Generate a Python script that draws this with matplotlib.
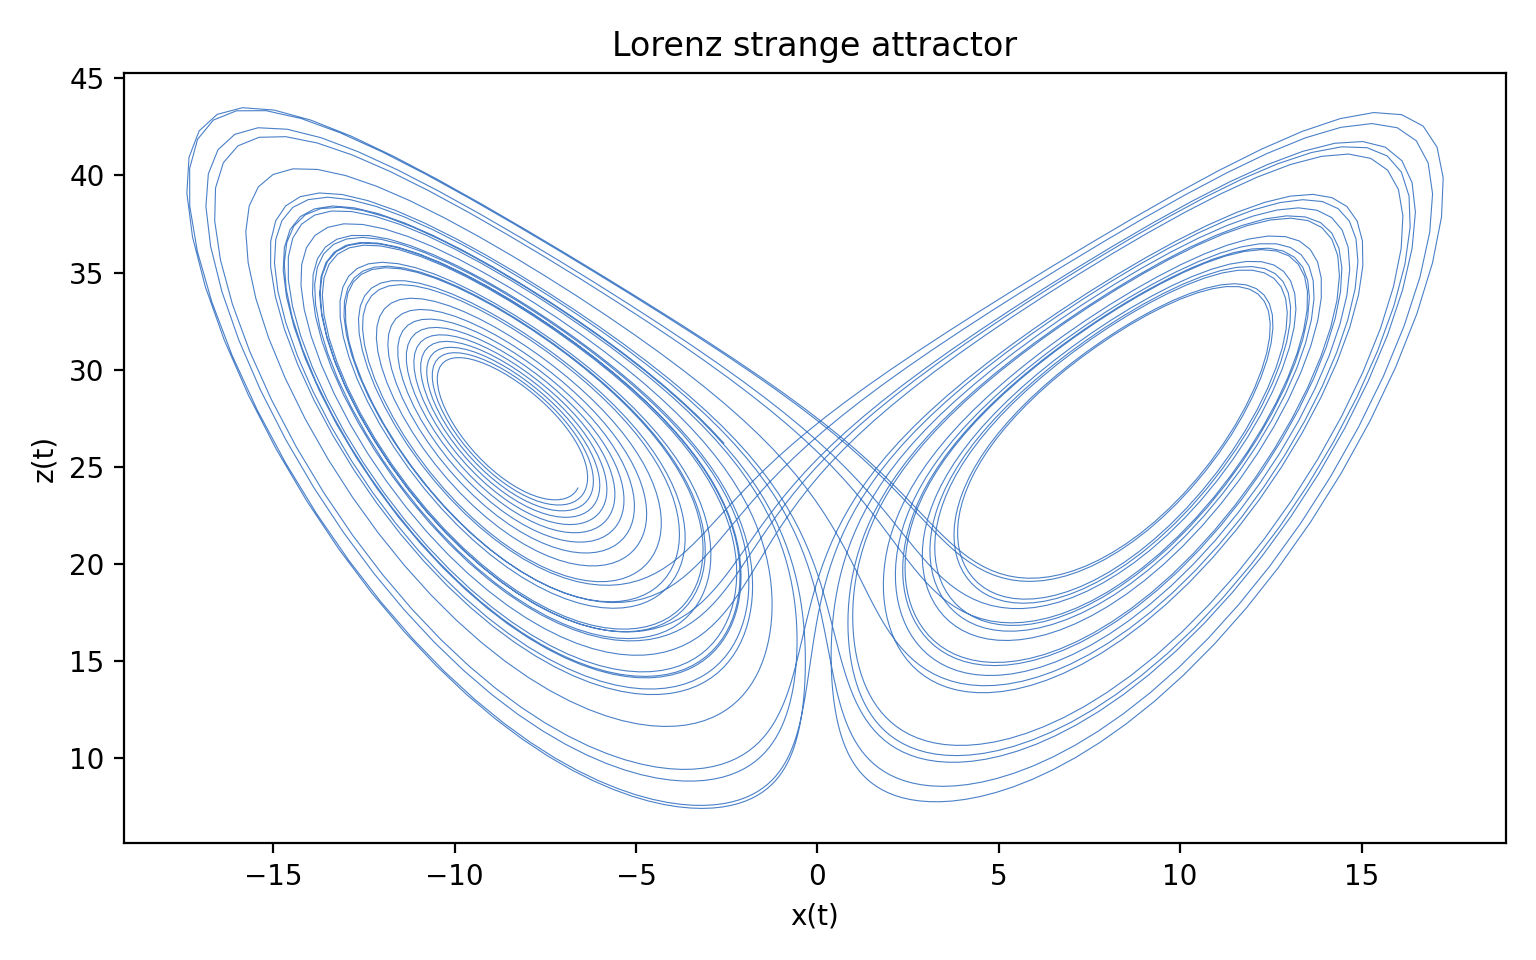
import numpy as np
import matplotlib
matplotlib.use("Agg")
import matplotlib.pyplot as plt

# Lorenz system parameters and the start point
sigma = 10.0
rho = 28.0
beta = 8.0 / 3.0
x_start = -6.6
z_start = 23.9
y_offset = 0.15
dt = 0.01
n_steps = 3550


def lorenz(s):
    x, y, z = s
    return np.array([sigma * (y - x), x * (rho - z) - y, x * y - beta * z])


# start point on the slow outward spiral around the left fixed point
a = np.sqrt(beta * (rho - 1))
c = np.array([-a, -a, rho - 1])
J = np.array([[-sigma, sigma, 0.0],
              [rho - c[2], -1.0, -c[0]],
              [c[1], c[0], -beta]])
w, v = np.linalg.eig(J)
k = np.argmax(w.real)
vr, vi = v[:, k].real, v[:, k].imag
A = np.array([[vr[0], vi[0]], [vr[2], vi[2]]])
p, q = np.linalg.solve(A, [x_start - c[0], z_start - c[2]])
s = c + p * vr + q * vi + np.array([0, y_offset, 0])

# RK4 steps
traj = np.empty((n_steps + 1, 3))
traj[0] = s
for i in range(n_steps):
    k1 = lorenz(s)
    k2 = lorenz(s + dt / 2 * k1)
    k3 = lorenz(s + dt / 2 * k2)
    k4 = lorenz(s + dt * k3)
    s = s + dt / 6 * (k1 + 2 * k2 + 2 * k3 + k4)
    traj[i + 1] = s

fig, ax = plt.subplots(figsize=(7.68, 4.8), dpi=200)
ax.plot(traj[:, 0], traj[:, 2], color='#4a80c8', lw=0.4)
ax.set_title('Lorenz strange attractor')
ax.set_xlabel('x(t)')
ax.set_ylabel('z(t)')
fig.tight_layout()
fig.savefig('out.png', dpi=200)
